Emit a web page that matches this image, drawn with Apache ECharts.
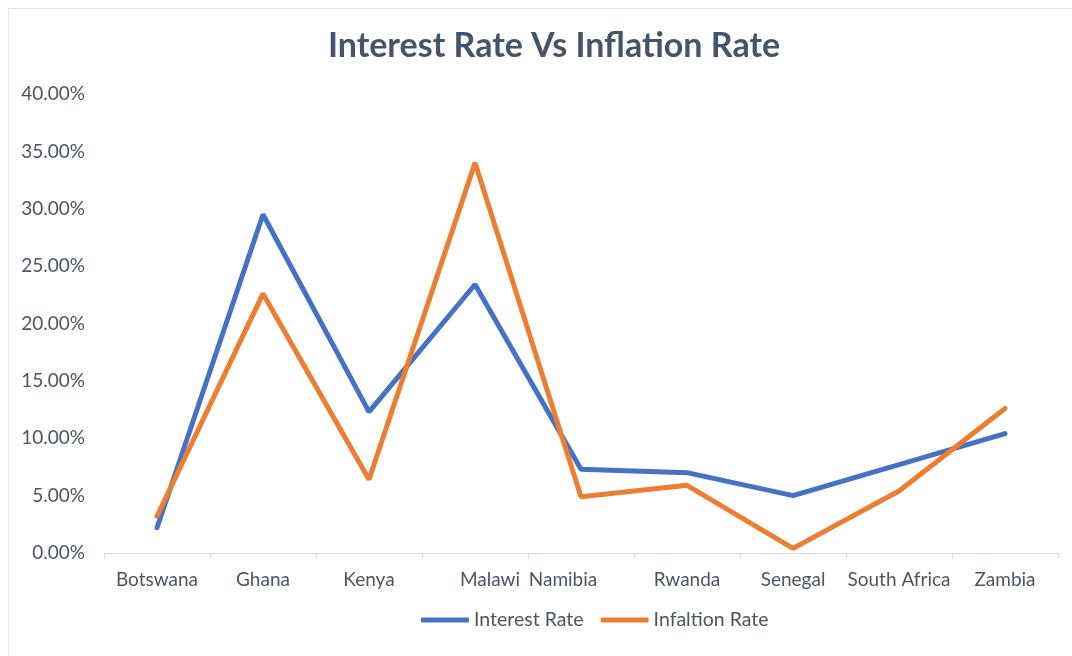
<!DOCTYPE html>
<html>
<head>
<meta charset="utf-8">
<style>
  html, body { margin: 0; padding: 0; background: #fff; }
  #chart { width: 1072px; height: 656px; }
</style>
<script src="https://cdn.jsdelivr.net/npm/echarts@6/dist/echarts.min.js"></script>
</head>
<body>
<div id="chart"></div>
<script>
// Countries on the category axis
const countries = ['Botswana', 'Ghana', 'Kenya', 'Malawi', 'Namibia', 'Rwanda', 'Senegal', 'South Africa', 'Zambia'];
// Rates as fractions (0.10 = 10%)
const interestRate = [0.022, 0.295, 0.123, 0.234, 0.073, 0.070, 0.050, 0.077, 0.104];
const inflationRate = [0.032, 0.226, 0.064, 0.340, 0.049, 0.059, 0.004, 0.054, 0.126];
// Value axis range and step
const yMin = 0, yMax = 0.40, yStep = 0.05;

const textColor = '#4a5568';
const fontFamily = 'Lato, "Open Sans", sans-serif';

// Slight nudges for the two crowded middle labels
const labelPadding = { 'Malawi': [0, 0, 0, 30], 'Namibia': [0, 36, 0, 0] };
const categoryData = countries.map(c => labelPadding[c]
  ? { value: c, textStyle: { padding: labelPadding[c] } }
  : c);

const chart = echarts.init(document.getElementById('chart'), null, { renderer: 'canvas' });
chart.setOption({
  backgroundColor: '#ffffff',
  animation: false,
  graphic: [{
    type: 'rect',
    shape: { x: 8.5, y: 8.5, width: 1100, height: 700 },
    style: { fill: 'none', stroke: '#e2e6eb', lineWidth: 1 },
    silent: true
  }],
  title: {
    text: 'Interest Rate Vs Inflation Rate',
    left: 549,
    top: 24,
    textAlign: 'center',
    textStyle: { fontFamily, fontSize: 34, fontWeight: 'bold', color: '#44546a' }
  },
  legend: {
    bottom: 21,
    left: 416,
    itemWidth: 48,
    itemHeight: 5,
    itemGap: 17,
    icon: 'roundRect',
    textStyle: { fontFamily, fontSize: 19.5, color: textColor },
    data: ['Interest Rate', 'Infaltion Rate']
  },
  grid: { left: 104, right: 14, top: 94, bottom: 103, containLabel: false },
  xAxis: {
    type: 'category',
    data: categoryData,
    boundaryGap: true,
    axisLine: { lineStyle: { color: '#d9dee4', width: 1 } },
    axisTick: { show: true, length: 6, lineStyle: { color: '#d9dee4' } },
    axisLabel: { fontFamily, fontSize: 19, color: textColor, margin: 17, interval: 0 }
  },
  yAxis: {
    type: 'value',
    min: yMin,
    max: yMax,
    interval: yStep,
    splitLine: { show: false },
    axisLine: { show: false },
    axisTick: { show: false },
    axisLabel: {
      fontFamily, fontSize: 19, color: textColor, margin: 19,
      formatter: v => (v * 100).toFixed(2) + '%'
    }
  },
  series: [
    {
      name: 'Interest Rate',
      type: 'line',
      data: interestRate,
      showSymbol: false,
      symbol: 'none',
      color: '#4472c4',
      lineStyle: { color: '#4472c4', width: 5, cap: 'round' }
    },
    {
      name: 'Infaltion Rate',
      type: 'line',
      data: inflationRate,
      showSymbol: false,
      symbol: 'none',
      color: '#ed7d31',
      lineStyle: { color: '#ed7d31', width: 5, cap: 'round' }
    }
  ]
});
</script>
</body>
</html>
